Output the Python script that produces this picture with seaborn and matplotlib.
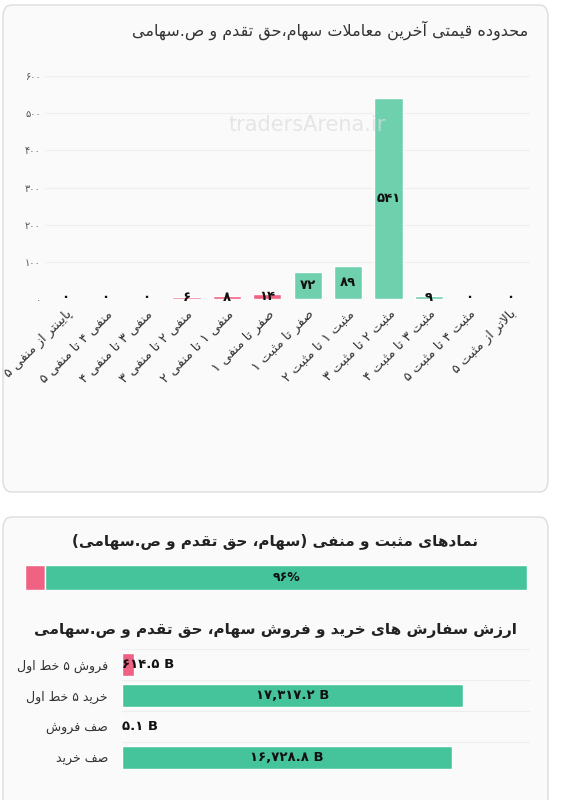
import re
import matplotlib
matplotlib.use("Agg")
import matplotlib.pyplot as plt
from matplotlib.patches import FancyBboxPatch
import seaborn as sns
import pandas as pd

# ---------- data ----------
categories = ["پایینتر از منفی ۵", "منفی ۴ تا منفی ۵", "منفی ۳ تا منفی ۴", "منفی ۲ تا منفی ۳",
              "منفی ۱ تا منفی ۲", "صفر تا منفی ۱", "صفر تا مثبت ۱", "مثبت ۱ تا مثبت ۲",
              "مثبت ۲ تا مثبت ۳", "مثبت ۳ تا مثبت ۴", "مثبت ۴ تا مثبت ۵", "بالاتر از مثبت ۵"]
counts = [0, 0, 0, 6, 8, 14, 72, 89, 541, 9, 0, 0]
y_ticks = [0, 100, 200, 300, 400, 500, 600]
pos_neg_share = [4, 96]   # negative %, positive %
order_labels = ["فروش ۵ خط اول", "خرید ۵ خط اول", "صف فروش", "صف خرید"]
order_values = [614.5, 17317.2, 5.1, 16728.8]

RED = "#f06283"
GREEN = "#6fd0ae"
GREEN2 = "#45c49c"

# ---------- minimal Arabic/Persian shaping ----------
FORMS = {
 '\u0627': ('\uFE8D', '\uFE8E', None, None), '\u0622': ('\uFE81', '\uFE82', None, None),
 '\u0628': ('\uFE8F', '\uFE90', '\uFE91', '\uFE92'), '\u062A': ('\uFE95', '\uFE96', '\uFE97', '\uFE98'),
 '\u062B': ('\uFE99', '\uFE9A', '\uFE9B', '\uFE9C'), '\u062C': ('\uFE9D', '\uFE9E', '\uFE9F', '\uFEA0'),
 '\u062D': ('\uFEA1', '\uFEA2', '\uFEA3', '\uFEA4'), '\u062E': ('\uFEA5', '\uFEA6', '\uFEA7', '\uFEA8'),
 '\u062F': ('\uFEA9', '\uFEAA', None, None), '\u0630': ('\uFEAB', '\uFEAC', None, None),
 '\u0631': ('\uFEAD', '\uFEAE', None, None), '\u0632': ('\uFEAF', '\uFEB0', None, None),
 '\u0633': ('\uFEB1', '\uFEB2', '\uFEB3', '\uFEB4'), '\u0634': ('\uFEB5', '\uFEB6', '\uFEB7', '\uFEB8'),
 '\u0635': ('\uFEB9', '\uFEBA', '\uFEBB', '\uFEBC'), '\u0636': ('\uFEBD', '\uFEBE', '\uFEBF', '\uFEC0'),
 '\u0637': ('\uFEC1', '\uFEC2', '\uFEC3', '\uFEC4'), '\u0638': ('\uFEC5', '\uFEC6', '\uFEC7', '\uFEC8'),
 '\u0639': ('\uFEC9', '\uFECA', '\uFECB', '\uFECC'), '\u063A': ('\uFECD', '\uFECE', '\uFECF', '\uFED0'),
 '\u0641': ('\uFED1', '\uFED2', '\uFED3', '\uFED4'), '\u0642': ('\uFED5', '\uFED6', '\uFED7', '\uFED8'),
 '\u0644': ('\uFEDD', '\uFEDE', '\uFEDF', '\uFEE0'), '\u0645': ('\uFEE1', '\uFEE2', '\uFEE3', '\uFEE4'),
 '\u0646': ('\uFEE5', '\uFEE6', '\uFEE7', '\uFEE8'), '\u0647': ('\uFEE9', '\uFEEA', '\uFEEB', '\uFEEC'),
 '\u0648': ('\uFEED', '\uFEEE', None, None), '\u064A': ('\uFEF1', '\uFEF2', '\uFEF3', '\uFEF4'),
 '\u067E': ('\uFB56', '\uFB57', '\uFB58', '\uFB59'), '\u0686': ('\uFB7A', '\uFB7B', '\uFB7C', '\uFB7D'),
 '\u0698': ('\uFB8A', '\uFB8B', None, None), '\u06A9': ('\uFB8E', '\uFB8F', '\uFB90', '\uFB91'),
 '\u06AF': ('\uFB92', '\uFB93', '\uFB94', '\uFB95'), '\u06CC': ('\uFBFC', '\uFBFD', '\uFBFE', '\uFBFF'),
}

def dual(c):
    return c in FORMS and FORMS[c][2] is not None

def shape(s):
    out = []
    i = 0
    n = len(s)
    while i < n:
        c = s[i]
        if c not in FORMS:
            out.append(c); i += 1; continue
        prev = s[i-1] if i > 0 else ''
        jp = dual(prev)
        if c == '\u0644' and i + 1 < n and s[i+1] in ('\u0627', '\u0622'):
            out.append('\uFEFC' if jp else '\uFEFB'); i += 2; continue
        nxt = s[i+1] if i + 1 < n else ''
        jn = dual(c) and nxt in FORMS
        iso, fin, ini, med = FORMS[c]
        if jp and jn: out.append(med)
        elif jp: out.append(fin)
        elif jn: out.append(ini)
        else: out.append(iso)
        i += 1
    return ''.join(out)

MIRROR = {'(': ')', ')': '('}
LTR = re.compile(r'[0-9\u06F0-\u06F9A-Za-z][0-9\u06F0-\u06F9A-Za-z.,% ]*[0-9\u06F0-\u06F9A-Za-z%]|[0-9\u06F0-\u06F9A-Za-z]')

def fa(s):
    s = shape(s)
    tokens, last = [], 0
    for m in LTR.finditer(s):
        if m.start() > last:
            tokens.append(('r', s[last:m.start()]))
        tokens.append(('l', m.group()))
        last = m.end()
    if last < len(s):
        tokens.append(('r', s[last:]))
    res = []
    for kind, t in reversed(tokens):
        if kind == 'r':
            res.append(''.join(MIRROR.get(ch, ch) for ch in reversed(t)))
        else:
            res.append(t)
    return ''.join(res)

DIG = str.maketrans('0123456789', '۰۱۲۳۴۵۶۷۸۹')
def pd_(x):
    return str(x).translate(DIG)

sns.set_theme(style="white")
plt.rcParams['font.family'] = ['DejaVu Sans']

fig = plt.figure(figsize=(5.72, 8.0), dpi=100)
W, H = 572, 800
def fx(x): return x / W
def fy(y): return 1 - y / H

# cards
for (x0, y0, x1, y1) in [(3, 5, 548, 492), (3, 517, 548, 815)]:
    fig.patches.append(FancyBboxPatch((fx(x0), fy(y1)), fx(x1 - x0), (y1 - y0) / H,
                       boxstyle="round,pad=0,rounding_size=0.015", transform=fig.transFigure,
                       facecolor="#fafafa", edgecolor="#dddddd", lw=1, zorder=-10))

fig.text(fx(528), fy(30), fa("محدوده قیمتی آخرین معاملات سهام،حق تقدم و ص.سهامی"),
         ha='right', va='center', fontsize=11.5, color="#333333")

# --- top bar chart
ax = fig.add_axes([fx(45), fy(299), fx(530 - 45), (299 - 76) / H])
df = pd.DataFrame({"cat": categories, "val": counts})
colors = [RED if i < 6 else GREEN for i in range(len(categories))]
sns.barplot(data=df, x="cat", y="val", hue="cat", palette=colors, legend=False, width=0.7,
            saturation=1, ax=ax)
ax.set_ylim(0, 600)
ax.set_xlim(-0.5, len(categories) - 0.5)
ax.set_yticks(y_ticks)
ax.set_yticklabels([pd_(v) for v in y_ticks], fontsize=7, color="#555555")
ax.set_xticks(range(len(categories)))
ax.set_xticklabels([fa(c) for c in categories], rotation=45, ha='right', va='top',
                   rotation_mode='anchor', fontsize=9.5, color="#333333")
ax.tick_params(axis='both', length=0, pad=3)
ax.tick_params(axis='x', pad=6)
ax.set_xlabel(""); ax.set_ylabel("")
ax.set_facecolor("none")
for sp in ax.spines.values():
    sp.set_visible(False)
ax.yaxis.grid(True, color="#eeeeee", lw=0.8)
ax.set_axisbelow(True)
for i, v in enumerate(counts):
    ax.text(i, max(v / 2, 4), pd_(v), ha='center', va='center', fontsize=9.5, fontweight='bold', color="#111111")
ax.text(0.54, 0.78, "tradersArena.ir", transform=ax.transAxes, ha='center', va='center',
        fontsize=15, color="#dddddd", alpha=0.7, zorder=5)

# --- positive/negative bar
fig.text(fx(275), fy(541), fa("نمادهای مثبت و منفی (سهام، حق تقدم و ص.سهامی)"),
         ha='center', va='center', fontsize=11, fontweight='bold', color="#222222")
ax2 = fig.add_axes([fx(25), fy(590), fx(527 - 25), 25 / H])
share_df = pd.DataFrame({"k": ["a"], "neg": [pos_neg_share[0]], "pos": [pos_neg_share[1]]})
sns.barplot(data=share_df, x="neg", y="k", color=RED, width=1.0, saturation=1, ax=ax2, orient='h')
ax2.barh([0], share_df["pos"], left=share_df["neg"], color=GREEN2, height=1.0)
ax2.set_xlim(0, 100); ax2.set_ylim(0.5, -0.5)
ax2.axis('off')
ax2.text(pos_neg_share[0] + pos_neg_share[1] / 2, 0, pd_(pos_neg_share[1]) + "%",
         ha='center', va='center', fontsize=9, fontweight='bold', color="#111111")

# --- order values
fig.text(fx(275), fy(631), fa("ارزش سفارش های خرید و فروش سهام، حق تقدم و ص.سهامی"),
         ha='center', va='center', fontsize=11, fontweight='bold', color="#222222")
ax3 = fig.add_axes([fx(122), fy(773), fx(530 - 122), (773 - 649) / H])
odf = pd.DataFrame({"lab": order_labels, "val": order_values})
sns.barplot(data=odf, x="val", y="lab", hue="lab", palette=[RED, GREEN2, RED, GREEN2],
            legend=False, width=0.72, orient='h', saturation=1, ax=ax3)
ax3.set_xlim(0, 20700)
ax3.set_facecolor("none")
for sp in ax3.spines.values():
    sp.set_visible(False)
ax3.set_xticks([])
ax3.set_xlabel(""); ax3.set_ylabel("")
ax3.set_yticks(range(len(order_labels)))
ax3.set_yticklabels([fa(l) for l in order_labels], fontsize=9, color="#333333")
ax3.tick_params(axis='y', length=0, pad=10)
for yb in [-0.5, 0.5, 1.5, 2.5, 3.5]:
    ax3.axhline(yb, color="#eeeeee", lw=0.8, zorder=0)
for i, v in enumerate(order_values):
    lab = pd_(f"{v:,.1f}") + " B"
    if v > 3000:
        ax3.text(v / 2, i, lab, ha='center', va='center', fontsize=9.5, fontweight='bold', color="#111111")
    else:
        ax3.text(0, i, lab, ha='left', va='center', fontsize=9.5, fontweight='bold', color="#111111")

fig.savefig("out.png", dpi=100)
